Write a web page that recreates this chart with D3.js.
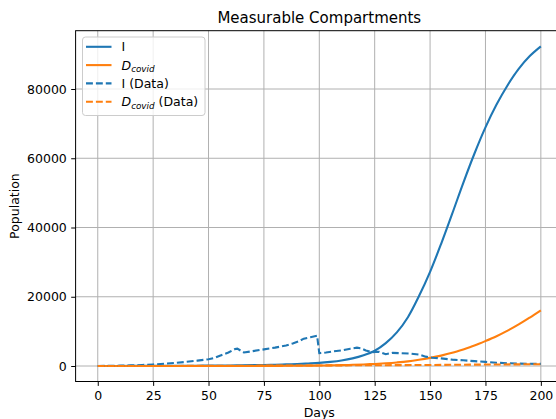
<!DOCTYPE html>
<html>
<head>
<meta charset="utf-8">
<script src="https://cdn.jsdelivr.net/npm/d3@7"></script>
<style>
  html, body { margin: 0; padding: 0; background: #fff; }
  svg { display: block; font-family: "DejaVu Sans", sans-serif; }
</style>
</head>
<body>
<svg id="chart" width="556" height="419"></svg>
<script>
// ---------- data ----------
const modelDays = [0,5,10,15,20,25,30,35,40,45,50,55,60,65,70,75,80,85,90,95,100,105,110,115,120,125,130,135,140,145,150,155,160,165,170,175,180,185,190,195,200];
const modelI = [10,14,18,23,29,36,45,56,70,88,110,135,165,200,245,300,370,460,570,720,900,1200,1600,2200,3100,4400,6600,9700,14100,20200,27200,35300,44000,52900,61300,68900,75500,81100,85800,89500,92300];
const modelD = [0,0,0,0,1,1,2,2,3,4,6,8,11,15,20,28,38,52,70,95,130,180,250,340,450,600,790,1030,1340,1800,2350,3000,3800,4800,5900,7200,8600,10200,12000,14000,16100];

const dataDays = [0,5,10,15,20,25,30,35,40,45,50,53,56,59,62,63,66,70,75,80,85,88,91,93,96,99,100,103,106,110,114,117,119,121,124,127,130,133,137,141,145,148,151,155,160,165,170,175,180,185,190,195,200];
const dataI = [0,50,100,180,280,450,650,900,1200,1550,1950,2400,3200,3900,4900,5000,3900,4300,4800,5300,5900,6500,7200,7900,8300,8750,3700,3900,4200,4500,5000,5300,5100,4500,4000,4100,3400,3800,3700,3600,3300,2700,2400,2200,1850,1650,1400,1200,950,800,700,650,600];

const dataDDays = [0,25,50,75,100,125,150,175,200];
const dataD = [0,5,40,100,160,220,300,420,520];

const xTicks = [0,25,50,75,100,125,150,175,200];
const yTicks = [0,20000,40000,60000,80000];

const titleText = "Measurable Compartments";
const xLabel = "Days";
const yLabel = "Population";

// ---------- layout ----------
(function () {
const C_BLUE = "#1f77b4", C_ORANGE = "#ff7f0e";
const L = 75.6, R = 563, T = 30.7, B = 381.5;
const LW = 2.1;
const svg = d3.select("#chart");

const x = d3.scaleLinear().domain([-10, 210]).range([L, R]);
const y = d3.scaleLinear().domain([-4476, 96838]).range([B, T]);

// grid
const grid = svg.append("g");
grid.selectAll("line.gx").data(xTicks).enter().append("line")
  .attr("x1", d => x(d)).attr("x2", d => x(d)).attr("y1", T).attr("y2", B)
  .attr("stroke", "#b0b0b0").attr("stroke-width", 1);
grid.selectAll("line.gy").data(yTicks).enter().append("line")
  .attr("x1", L).attr("x2", R).attr("y1", d => y(d)).attr("y2", d => y(d))
  .attr("stroke", "#b0b0b0").attr("stroke-width", 1);

// lines
svg.append("clipPath").attr("id", "clip").append("rect")
  .attr("x", L).attr("y", T).attr("width", R - L).attr("height", B - T);
const plot = svg.append("g").attr("clip-path", "url(#clip)");

const lineModel = d3.line().x(d => x(d[0])).y(d => y(d[1])).curve(d3.curveCatmullRom.alpha(0.5));
const lineData = d3.line().x(d => x(d[0])).y(d => y(d[1]));
const zip = (a, b) => a.map((v, i) => [v, b[i]]);
const dash = "6.9,3";

plot.append("path").datum(zip(modelDays, modelI)).attr("d", lineModel)
  .attr("fill", "none").attr("stroke", C_BLUE).attr("stroke-width", LW);
plot.append("path").datum(zip(modelDays, modelD)).attr("d", lineModel)
  .attr("fill", "none").attr("stroke", C_ORANGE).attr("stroke-width", LW);
plot.append("path").datum(zip(dataDays, dataI)).attr("d", lineData)
  .attr("fill", "none").attr("stroke", C_BLUE).attr("stroke-width", LW).attr("stroke-dasharray", dash);
plot.append("path").datum(zip(dataDDays, dataD)).attr("d", lineData)
  .attr("fill", "none").attr("stroke", C_ORANGE).attr("stroke-width", LW).attr("stroke-dasharray", dash);

// axes
const xAxis = d3.axisBottom(x).tickValues(xTicks).tickSize(4.4).tickPadding(4.4).tickFormat(d3.format("d"));
const yAxis = d3.axisLeft(y).tickValues(yTicks).tickSize(4.4).tickPadding(4.4).tickFormat(d3.format("d"));
const gx = svg.append("g").attr("transform", `translate(0,${B})`).call(xAxis);
const gy = svg.append("g").attr("transform", `translate(${L},0)`).call(yAxis);
[gx, gy].forEach(g => {
  g.select(".domain").remove();
  g.selectAll(".tick line").attr("stroke", "#000").attr("stroke-width", 1);
  g.selectAll(".tick text").attr("fill", "#000").attr("font-size", "12.5px").attr("font-family", "DejaVu Sans");
});
gx.selectAll(".tick text").attr("dy", "0.76em");

// spines
svg.append("rect").attr("x", L).attr("y", T).attr("width", R - L).attr("height", B - T)
  .attr("fill", "none").attr("stroke", "#000").attr("stroke-width", 1);

// title & labels
svg.append("text").attr("x", (L + R) / 2).attr("y", 23.2).attr("text-anchor", "middle")
  .attr("font-size", "15px").attr("fill", "#000").text(titleText);
svg.append("text").attr("x", (L + R) / 2).attr("y", 416.5).attr("text-anchor", "middle")
  .attr("font-size", "12.5px").attr("fill", "#000").text(xLabel);
svg.append("text").attr("transform", `translate(18.9,${(T + B) / 2}) rotate(-90)`).attr("text-anchor", "middle")
  .attr("font-size", "12.5px").attr("fill", "#000").text(yLabel);

// legend
const legendItems = [
  { color: C_BLUE, dash: null, label: [["I", false, false]] },
  { color: C_ORANGE, dash: null, label: [["D", true, false], ["covid", true, true]] },
  { color: C_BLUE, dash: dash, label: [["I (Data)", false, false]] },
  { color: C_ORANGE, dash: dash, label: [["D", true, false], ["covid", true, true], [" (Data)", false, false]] }
];
const lg = svg.append("g");
lg.append("rect").attr("x", 82.5).attr("y", 37).attr("width", 122.5).attr("height", 78.5)
  .attr("rx", 3).attr("ry", 3).attr("fill", "rgba(255,255,255,0.8)").attr("stroke", "#cccccc").attr("stroke-width", 1);
legendItems.forEach((it, i) => {
  const cy = 46.8 + i * 18.3;
  lg.append("line").attr("x1", 86).attr("x2", 111.5).attr("y1", cy).attr("y2", cy)
    .attr("stroke", it.color).attr("stroke-width", LW).attr("stroke-dasharray", it.dash);
  const t = lg.append("text").attr("x", 121.5).attr("y", cy + 4.5).attr("font-size", "12.5px").attr("fill", "#000");
  it.label.forEach(([s, ital, sub], j) => {
    const ts = t.append("tspan").text(s);
    if (ital) ts.attr("font-style", "italic");
    if (sub) ts.attr("font-size", "8.8px").attr("dy", "2.5");
    else if (j > 0) ts.attr("dy", "-2.5");
  });
});
})();
</script>
</body>
</html>
